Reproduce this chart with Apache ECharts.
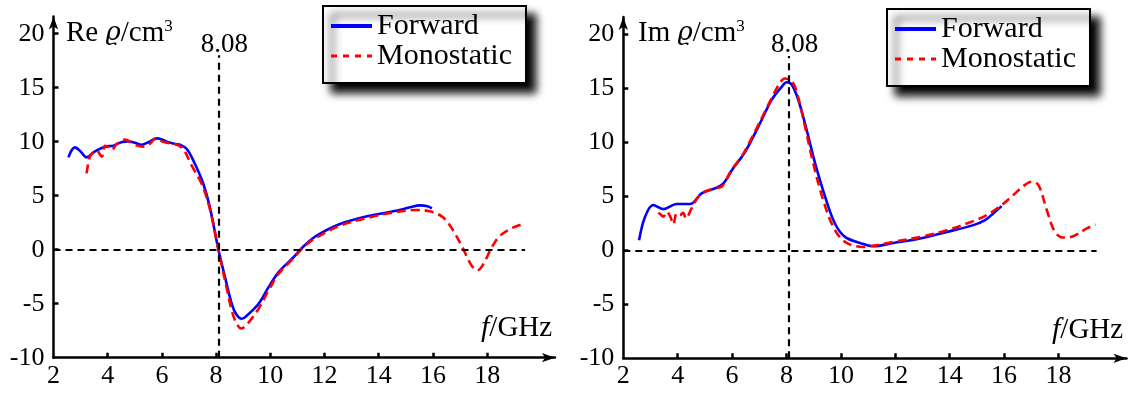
<!DOCTYPE html>
<html><head><meta charset="utf-8">
<script src="https://cdn.jsdelivr.net/npm/echarts@6/dist/echarts.min.js"></script>
<style>html,body{margin:0;padding:0;background:#fff}#c{width:1142px;height:394px}</style>
</head><body><div id="c"></div>
<script>
// ---- data ----
const reFwdX = [2.55,2.79,3.0,3.22,3.53,3.9,4.21,4.5,4.76,5.0,5.25,5.5,5.81,6.05,6.24,6.5,6.67,6.92,7.22,7.53,7.77,8.08,8.33,8.58,8.75,8.95,9.13,9.56,9.93,10.3,10.79,11.28,11.71,12.57,13.56,14.54,15.16,15.52,15.8,15.96];
const reFwdY = [8.55,9.47,9.1,8.55,9.1,9.54,9.63,9.95,10.03,9.9,9.72,9.95,10.31,10.15,9.94,9.78,9.72,9.32,7.93,6.08,3.92,0.06,-2.56,-5.03,-6.0,-6.4,-6.11,-5.03,-3.49,-2.1,-0.86,0.43,1.30,2.38,3.09,3.55,3.92,4.10,4.02,3.83];
const reMonoX = [3.22,3.35,3.47,3.59,3.78,3.9,4.03,4.15,4.33,4.64,5.01,5.31,5.55,5.75,6.11,6.55,6.79,7.1,7.47,7.77,8.08,8.33,8.58,8.75,8.92,9.13,9.56,9.93,10.3,10.79,11.28,11.71,12.57,13.56,14.54,15.4,15.89,16.38,16.75,17.12,17.43,17.65,17.86,18.17,18.48,18.97,19.4];
const reMonoY = [7.07,8.7,9.0,9.17,8.6,9.63,9.5,9.23,9.78,10.19,9.72,9.54,9.8,10.25,9.94,9.72,9.32,7.78,6.08,3.77,0.06,-2.87,-5.65,-6.8,-7.3,-6.94,-5.49,-3.8,-2.25,-0.95,0.37,1.14,2.22,2.93,3.45,3.67,3.55,2.99,1.76,0.06,-1.48,-1.9,-1.33,0.21,1.30,2.06,2.44];
const imFwdX = [2.58,2.8,3.1,3.47,3.96,4.45,4.88,5.37,5.68,6.04,6.41,6.72,7.09,7.46,7.82,8.0,8.19,8.43,8.74,9.05,9.42,9.78,10.15,10.7,11.19,11.93,12.91,13.89,14.87,15.3,15.6,15.91];
const imFwdY = [0.93,3.1,4.19,3.81,4.28,4.28,5.27,5.74,6.2,7.6,8.84,10.23,12.09,13.95,15.13,15.56,15.35,13.95,11.16,8.07,4.96,2.48,1.24,0.68,0.37,0.68,1.09,1.7,2.33,2.79,3.41,4.09];
const imMonoX = [3.29,3.4,3.47,3.6,3.72,3.84,3.96,4.08,4.2,4.3,4.51,4.76,5.0,5.37,5.62,5.98,6.35,6.72,7.09,7.46,7.76,7.94,8.19,8.37,8.68,8.98,9.35,9.72,10.15,10.82,11.07,11.93,12.91,13.89,14.87,15.36,15.91,16.34,16.71,17.01,17.26,17.57,17.87,18.18,18.54,19.04,19.36];
const imMonoY = [3.47,3.25,3.1,3.56,3.16,2.42,3.41,3.26,3.47,2.95,3.88,4.96,5.42,5.74,5.89,7.44,8.68,10.39,12.25,14.11,15.5,15.9,15.66,14.73,11.47,8.07,4.65,2.17,0.78,0.31,0.37,0.78,1.24,1.86,2.7,3.26,4.19,5.12,5.95,6.35,6.05,3.72,1.7,1.18,1.3,2.02,2.4];
const xTickLabels = [2,4,6,8,10,12,14,16,18];
const yTickLabels = [-10,-5,0,5,10,15,20];
const markX = 8.08;
const markTop = 18;
const zeroLineEnd = 19.4;
const seriesNames = ['Forward','Monostatic'];

// ---- styling ----
const SERIF = "Liberation Serif";
const BLUE = '#0000ff', RED = '#ff0000';
const zip = (xs, ys) => xs.map((x, i) => [x, ys[i]]);

const grids = [
  {left: 53.5, top: 16.4, width: 501.4, height: 341.3},
  {left: 623.3, top: 17, width: 503.2, height: 341.3}
];

const tickRich = {t: {fontFamily: SERIF, fontSize: 26, color: '#000', fontWeight: 'normal'}};

function xAxis(i) {
  return {
    type: 'value', gridIndex: i, min: 2, max: 20.5,
    splitLine: {show: false},
    axisLine: {show: true, onZero: false, symbol: ['none', 'arrow'], symbolSize: [7, 13],
      lineStyle: {color: '#000', width: 2.5}},
    axisTick: {show: true, inside: true, length: 5, lineStyle: {color: '#000', width: 2.5},
      customValues: xTickLabels.filter(v => v > 2)},
    axisLabel: {customValues: xTickLabels, margin: 5, fontFamily: SERIF, fontSize: 26, color: '#000',
      formatter: v => '{t|' + v + '}', rich: tickRich}
  };
}
function yAxis(i) {
  return {
    type: 'value', gridIndex: i, min: -10, max: 21.6,
    splitLine: {show: false},
    axisLine: {show: true, onZero: false, symbol: ['none', 'arrow'], symbolSize: [7, 13],
      lineStyle: {color: '#000', width: 2.5}},
    axisTick: {show: true, inside: true, length: 5, lineStyle: {color: '#000', width: 2.5},
      customValues: yTickLabels.filter(v => v > -10)},
    axisLabel: {customValues: yTickLabels, margin: 9, fontFamily: SERIF, fontSize: 26, color: '#000',
      formatter: v => '{t|' + v + '}', rich: tickRich}
  };
}

function markLines() {
  const ls = {color: '#000', width: 2.2, type: [7, 5]};
  return {
    silent: true, symbol: 'none', animation: false,
    lineStyle: ls,
    label: {show: false},
    data: [
      [{coord: [markX, -10], lineStyle: ls,
        label: {show: true, position: 'end', distance: -3, formatter: String(markX),
          fontFamily: SERIF, fontSize: 27, color: '#000', padding: [0, 0, 0, 12]}},
       {coord: [markX, markTop]}],
      [{coord: [2, 0], lineStyle: ls, label: {show: false}},
       {coord: [zeroLineEnd, 0]}]
    ]
  };
}

function panelSeries(i, fx, fy, mx, my) {
  return [
    {type: 'line', name: seriesNames[0], xAxisIndex: i, yAxisIndex: i, data: zip(fx, fy),
      smooth: 0.35, symbol: 'none', showSymbol: false, z: 3,
      lineStyle: {color: BLUE, width: 2.6}, itemStyle: {color: BLUE},
      markLine: markLines()},
    {type: 'line', name: seriesNames[1], xAxisIndex: i, yAxisIndex: i, data: zip(mx, my),
      smooth: 0.35, symbol: 'none', showSymbol: false, z: 4,
      lineStyle: {color: RED, width: 2.6, type: [9, 5]}, itemStyle: {color: RED}}
  ];
}

function legend(left, top) {
  return {
    orient: 'vertical', left: left, top: top,
    padding: [5, 14, 12, 6], itemGap: 0, itemWidth: 41, itemHeight: 14,
    backgroundColor: '#fff', borderColor: '#000', borderWidth: 2, borderRadius: 0,
    shadowBlur: 8, shadowColor: 'rgba(0,0,0,1)', shadowOffsetX: 9, shadowOffsetY: 9,
    itemStyle: {opacity: 0},
    textStyle: {fontFamily: SERIF, fontSize: 30, color: '#000', lineHeight: 25},
    data: [
      {name: seriesNames[0], lineStyle: {width: 4}},
      {name: seriesNames[1], lineStyle: {width: 3, type: [6, 6]}}
    ]
  };
}

const rich = {
  r: {fontFamily: SERIF, fontWeight: 'normal', fontSize: 29, color: '#000'},
  g: {fontFamily: 'DejaVu Serif', fontWeight: 'normal', fontStyle: 'italic', fontSize: 26, color: '#000'},
  i: {fontFamily: SERIF, fontWeight: 'normal', fontStyle: 'italic', fontSize: 30, color: '#000'},
  s: {fontFamily: SERIF, fontWeight: 'normal', fontSize: 17, color: '#000', verticalAlign: 'top', padding: [0, 0, 14, 0]}
};

const option = {
  animation: false,
  backgroundColor: '#fff',
  textStyle: {fontFamily: SERIF},
  title: [
    {left: 66, top: 18, padding: 0, text: '{r|Re }{g|ϱ}{r|/cm}{s|3}', textStyle: {fontWeight: 'normal', rich}},
    {left: 638, top: 18, padding: 0, text: '{r|Im }{g|ϱ}{r|/cm}{s|3}', textStyle: {fontWeight: 'normal', rich}},
    {left: 481, top: 313, padding: 0, text: '{i|f}{r|/GHz}', textStyle: {fontWeight: 'normal', rich}},
    {left: 1052, top: 315, padding: 0, text: '{i|f}{r|/GHz}', textStyle: {fontWeight: 'normal', rich}}
  ],
  grid: grids.map(g => Object.assign({outerBoundsMode: 'none'}, g)),
  xAxis: [xAxis(0), xAxis(1)],
  yAxis: [yAxis(0), yAxis(1)],
  legend: [legend(323, 6), legend(887, 9)],
  series: [
    ...panelSeries(0, reFwdX, reFwdY, reMonoX, reMonoY),
    ...panelSeries(1, imFwdX, imFwdY, imMonoX, imMonoY)
  ]
};

const chart = echarts.init(document.getElementById('c'), null, {renderer: 'canvas'});
chart.setOption(option);
</script></body></html>
